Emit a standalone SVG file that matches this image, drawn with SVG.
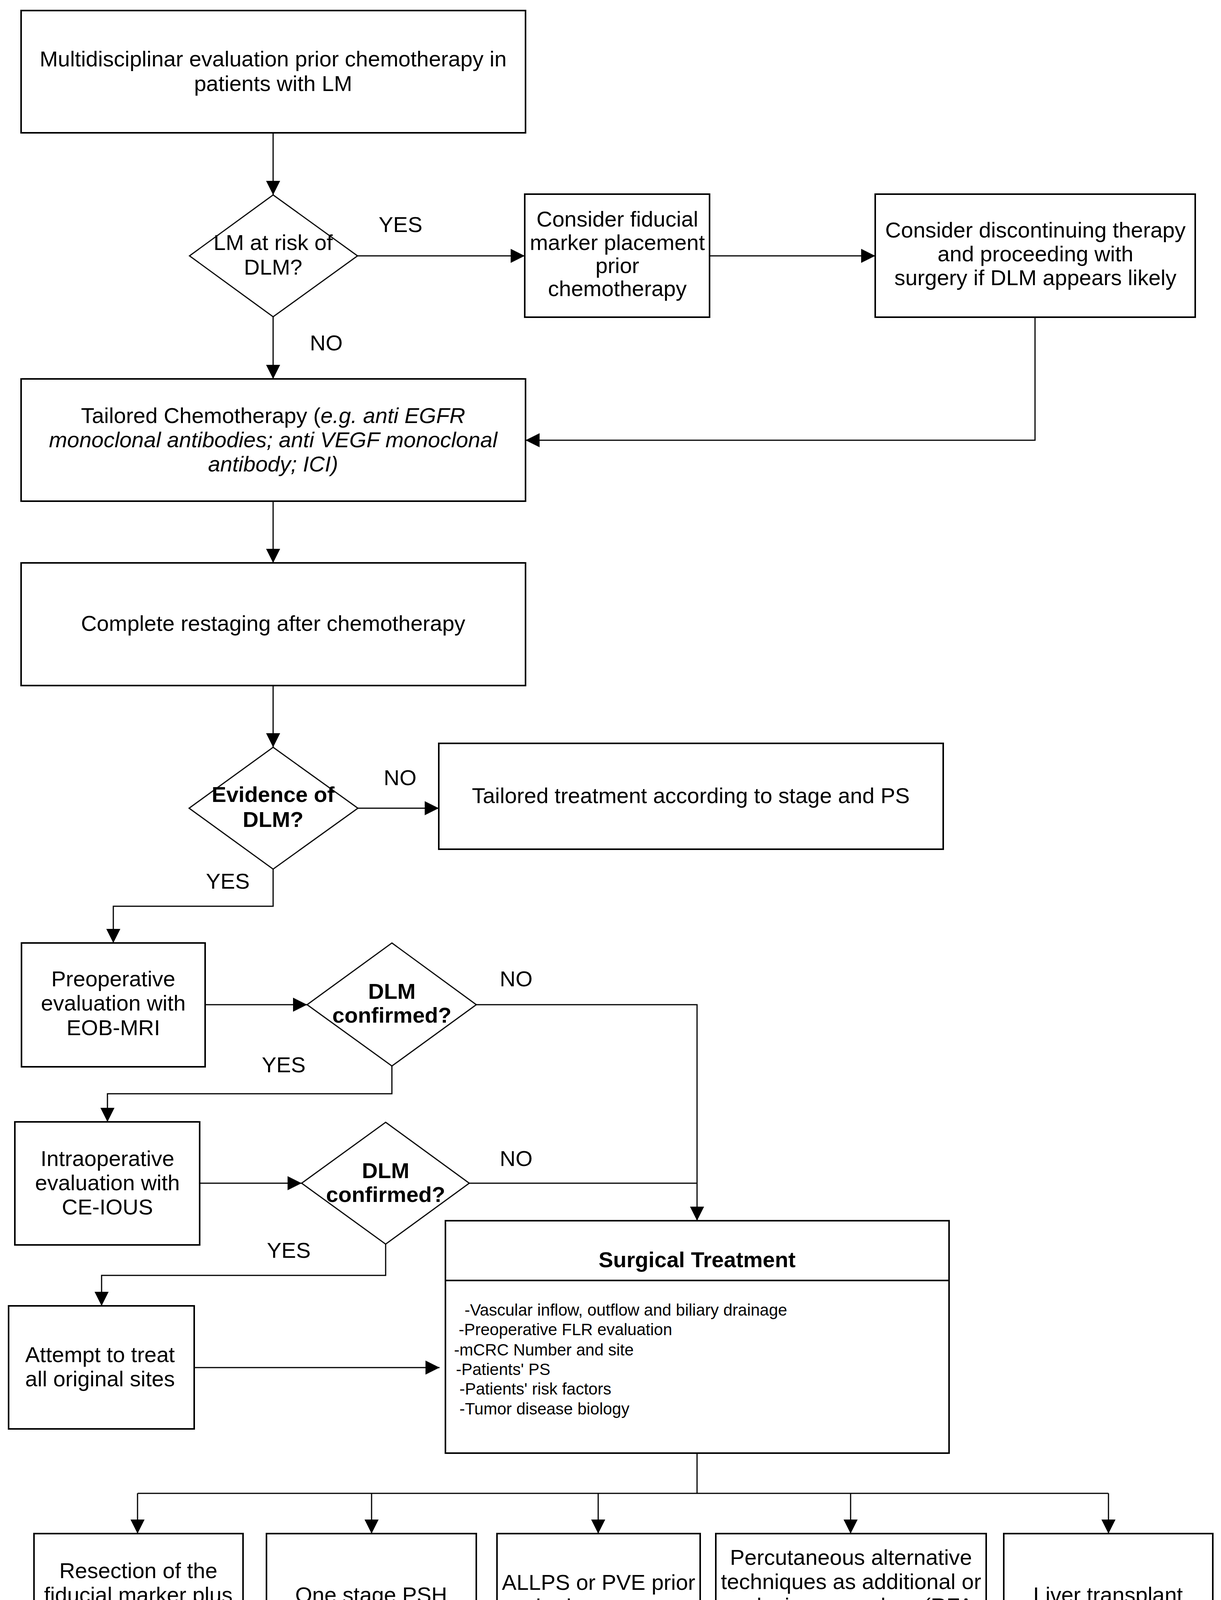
<svg xmlns="http://www.w3.org/2000/svg" width="3125" height="4266" viewBox="0 0 3125 4266">
<style>
.box{fill:#fff;stroke:#000;stroke-width:4}
.dia{fill:#fff;stroke:#000;stroke-width:3}
.con{fill:none;stroke:#000;stroke-width:3}
text{font-family:"Liberation Sans",Arial,sans-serif;font-size:56px;fill:#000}
.c{text-anchor:middle}
.b{font-weight:bold}
.i{font-style:italic}
.s{font-size:42px}
</style>
<defs>
<marker id="arr" markerUnits="userSpaceOnUse" markerWidth="36" markerHeight="36" viewBox="0 0 36 36" refX="36" refY="18" orient="auto">
<path d="M0,0 L36,18 L0,36 z" fill="#000"/>
</marker>
</defs>
<rect width="3125" height="4266" fill="#fff"/>
<g id="connectors">
<path class="con" d="M699,341 V499" marker-end="url(#arr)"/>
<path class="con" d="M915,655 H1343" marker-end="url(#arr)"/>
<path class="con" d="M699,811 V970" marker-end="url(#arr)"/>
<path class="con" d="M1816,655 H2240" marker-end="url(#arr)"/>
<path class="con" d="M2649,812 V1127 H1345" marker-end="url(#arr)"/>
<path class="con" d="M699,1283 V1441" marker-end="url(#arr)"/>
<path class="con" d="M699,1755 V1913" marker-end="url(#arr)"/>
<path class="con" d="M916,2069 H1123" marker-end="url(#arr)"/>
<path class="con" d="M699,2225 V2320 H290 V2414" marker-end="url(#arr)"/>
<path class="con" d="M525,2572 H786" marker-end="url(#arr)"/>
<path class="con" d="M1219,2572 H1784 V3125" marker-end="url(#arr)"/>
<path class="con" d="M1003,2729 V2800 H275 V2872" marker-end="url(#arr)"/>
<path class="con" d="M511,3029 H772" marker-end="url(#arr)"/>
<path class="con" d="M1201,3029 H1784"/>
<path class="con" d="M987,3185 V3265 H260 V3343" marker-end="url(#arr)"/>
<path class="con" d="M497,3501 H1125" marker-end="url(#arr)"/>
<path class="con" d="M1784,3720 V3823 M352,3823 H2837"/>
<path class="con" d="M352,3823 V3926" marker-end="url(#arr)"/>
<path class="con" d="M951,3823 V3926" marker-end="url(#arr)"/>
<path class="con" d="M1531,3823 V3926" marker-end="url(#arr)"/>
<path class="con" d="M2177,3823 V3926" marker-end="url(#arr)"/>
<path class="con" d="M2837,3823 V3926" marker-end="url(#arr)"/>
</g>
<g id="labels">
<text x="969" y="594">YES</text>
<text x="793" y="897">NO</text>
<text x="982" y="2010">NO</text>
<text x="527" y="2275">YES</text>
<text x="1279" y="2525">NO</text>
<text x="670" y="2745">YES</text>
<text x="1279" y="2985">NO</text>
<text x="683" y="3220">YES</text>
</g>
<g id="n1">
<rect class="box" x="54" y="27" width="1291" height="313"/>
<text class="c" x="699" y="170">Multidisciplinar evaluation prior chemotherapy in</text>
<text class="c" x="699" y="233">patients with LM</text>
</g>
<g id="d1">
<polygon class="dia" points="699,499 915,655 699,811 485,655"/>
<text class="c" x="699" y="640">LM at risk of</text>
<text class="c" x="699" y="703">DLM?</text>
</g>
<g id="n2">
<rect class="box" x="1343" y="497" width="473" height="315"/>
<text class="c" x="1580" y="580">Consider fiducial</text>
<text class="c" x="1580" y="640">marker placement</text>
<text class="c" x="1580" y="699">prior</text>
<text class="c" x="1580" y="758">chemotherapy</text>
</g>
<g id="n3">
<rect class="box" x="2240" y="497" width="819" height="315"/>
<text class="c" x="2650" y="608">Consider discontinuing therapy</text>
<text class="c" x="2650" y="669">and proceeding with</text>
<text class="c" x="2650" y="730">surgery if DLM appears likely</text>
</g>
<g id="n4">
<rect class="box" x="54" y="970" width="1291" height="313"/>
<text class="c" x="699" y="1083">Tailored Chemotherapy (<tspan class="i">e.g. anti EGFR</tspan></text>
<text class="c i" x="699" y="1145">monoclonal antibodies; anti VEGF monoclonal</text>
<text class="c i" x="699" y="1207">antibody; ICI)</text>
</g>
<g id="n5">
<rect class="box" x="54" y="1441" width="1291" height="314"/>
<text class="c" x="699" y="1615">Complete restaging after chemotherapy</text>
</g>
<g id="d2">
<polygon class="dia" points="699,1913 916,2069 699,2225 484,2069"/>
<text class="c b" x="699" y="2053">Evidence of</text>
<text class="c b" x="699" y="2117">DLM?</text>
</g>
<g id="n6">
<rect class="box" x="1123" y="1903" width="1291" height="271"/>
<text class="c" x="1768" y="2056">Tailored treatment according to stage and PS</text>
</g>
<g id="n7">
<rect class="box" x="55" y="2414" width="470" height="317"/>
<text class="c" x="290" y="2525">Preoperative</text>
<text class="c" x="290" y="2587">evaluation with</text>
<text class="c" x="290" y="2650">EOB-MRI</text>
</g>
<g id="d3">
<polygon class="dia" points="1003,2414 1219,2572 1003,2729 786,2572"/>
<text class="c b" x="1003" y="2557">DLM</text>
<text class="c b" x="1003" y="2618">confirmed?</text>
</g>
<g id="n8">
<rect class="box" x="38" y="2872" width="473" height="315"/>
<text class="c" x="275" y="2985">Intraoperative</text>
<text class="c" x="275" y="3047">evaluation with</text>
<text class="c" x="275" y="3109">CE-IOUS</text>
</g>
<g id="d4">
<polygon class="dia" points="987,2873 1201,3029 987,3185 772,3029"/>
<text class="c b" x="987" y="3016">DLM</text>
<text class="c b" x="987" y="3077">confirmed?</text>
</g>
<g id="n9">
<rect class="box" x="22" y="3343" width="475" height="315"/>
<text class="c" x="256" y="3487">Attempt to treat</text>
<text class="c" x="256" y="3549">all original sites</text>
</g>
<g id="n10">
<rect class="box" x="1140" y="3125" width="1289" height="595"/>
<line class="box" x1="1140" y1="3278" x2="2429" y2="3278"/>
<text class="c b" x="1784" y="3244">Surgical Treatment</text>
<text class="s" x="1189" y="3368">-Vascular inflow, outflow and biliary drainage</text>
<text class="s" x="1174" y="3418">-Preoperative FLR evaluation</text>
<text class="s" x="1162" y="3470">-mCRC Number and site</text>
<text class="s" x="1167" y="3520">-Patients' PS</text>
<text class="s" x="1176" y="3570">-Patients' risk factors</text>
<text class="s" x="1176" y="3621">-Tumor disease biology</text>
</g>
<g id="n11">
<rect class="box" x="87" y="3926" width="535" height="314"/>
<text class="c" x="354" y="4040">Resection of the</text>
<text class="c" x="354" y="4102">fiducial marker plus</text>
<text class="c" x="354" y="4164">adeguate margins</text>
</g>
<g id="n12">
<rect class="box" x="682" y="3926" width="537" height="314"/>
<text class="c" x="950" y="4102">One stage PSH</text>
</g>
<g id="n13">
<rect class="box" x="1272" y="3926" width="520" height="314"/>
<text class="c" x="1532" y="4070">ALLPS or PVE prior</text>
<text class="c" x="1532" y="4132">major hepatectomy</text>
</g>
<g id="n14">
<rect class="box" x="1832" y="3926" width="692" height="314"/>
<text class="c" x="2178" y="4006">Percutaneous alternative</text>
<text class="c" x="2178" y="4068">techniques as additional or</text>
<text class="c" x="2178" y="4130">exclusive procedure (RFA;</text>
<text class="c" x="2178" y="4192">MWA).</text>
</g>
<g id="n15">
<rect class="box" x="2569" y="3926" width="535" height="314"/>
<text class="c" x="2836" y="4102">Liver transplant</text>
</g>
</svg>
